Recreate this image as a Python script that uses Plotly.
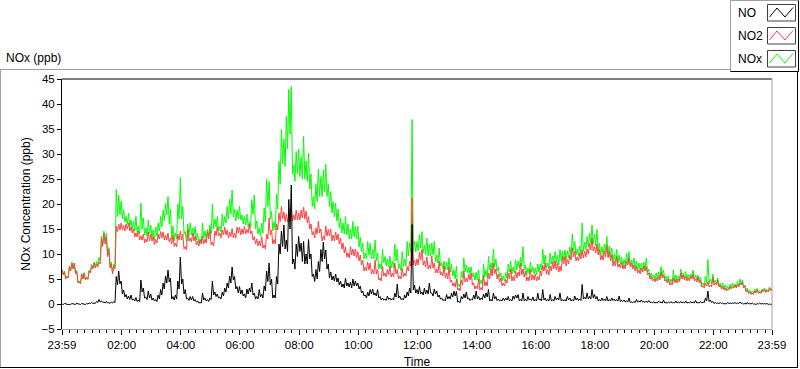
import pandas as pd
import plotly.graph_objects as go

# ---- data: readings every 5 minutes starting 23:59 (ppb); *_LOW = dip between consecutive readings ----
NO = [
 0.0, 0.1, 0.0, -0.1, 0.1, 0.0, 0.2, 0.0, 0.1, 0.0, 0.1, 0.2,
 0.3, 0.2, 0.5, 0.9, 0.6, 0.4, 0.5, 0.3, 0.4, 0.5, 5.5, 6.6,
 4.6, 2.8, 1.9, 1.6, 1.8, 1.0, 1.3, 0.8, 4.8, 3.2, 1.4, 2.6,
 2.0, 1.2, 0.9, 1.8, 2.9, 4.2, 5.6, 6.8, 5.2, 1.5, 1.8, 4.6,
 9.4, 5.0, 2.9, 1.2, 1.5, 1.5, 0.9, 0.6, 0.3, 2.2, 1.2, 0.9,
 1.2, 4.6, 2.4, 2.0, 1.4, 2.4, 3.2, 4.2, 5.6, 7.4, 5.5, 3.5,
 3.5, 2.8, 2.0, 3.0, 3.2, 4.2, 2.2, 1.5, 2.9, 2.0, 3.6, 6.6,
 8.2, 5.0, 1.8, 5.5, 12.0, 14.6, 15.8, 12.8, 20.9, 23.8, 9.0, 12.0,
 13.5, 12.2, 12.5, 10.0, 12.9, 10.0, 6.0, 6.9, 8.5, 10.9, 12.4, 10.8,
 8.0, 6.4, 5.6, 6.0, 5.2, 4.6, 4.0, 5.2, 4.2, 4.4, 5.0, 4.6,
 4.2, 3.6, 2.6, 1.8, 2.4, 2.9, 3.0, 2.2, 2.9, 1.5, 1.2, 1.0,
 1.6, 1.2, 1.1, 2.2, 4.0, 1.6, 1.1, 1.8, 2.4, 3.2, 15.9, 3.8,
 2.9, 3.5, 2.4, 3.2, 2.8, 4.2, 2.2, 3.0, 2.6, 1.8, 1.2, 0.9,
 1.9, 1.5, 2.2, 2.6, 2.5, 0.5, 1.5, 2.0, 2.4, 1.2, 1.0, 1.8,
 2.6, 1.5, 1.2, 2.0, 2.2, 2.9, 0.9, 2.2, 1.5, 1.0, 0.8, 1.2,
 1.2, 1.5, 0.9, 1.6, 1.8, 1.9, 0.9, 2.2, 0.9, 1.5, 1.0, 1.4,
 0.9, 2.2, 1.0, 2.9, 1.2, 0.9, 1.9, 0.9, 1.5, 1.2, 2.2, 0.9,
 0.9, 1.5, 1.2, 0.9, 1.6, 1.2, 1.0, 3.9, 1.4, 2.2, 1.5, 2.9,
 1.9, 1.5, 0.9, 1.2, 1.0, 1.5, 0.9, 1.2, 1.0, 0.9, 1.6, 0.7,
 0.8, 0.6, 1.2, 0.4, 0.5, 0.9, 0.6, 0.8, 0.5, 0.6, 0.7, 0.4,
 0.5, 0.3, 0.6, 0.4, 0.8, 0.3, 0.4, 0.5, 0.3, 0.6, 0.4, 0.5,
 0.4, 0.6, 0.3, 0.5, 0.4, 0.7, 0.3, 0.5, 0.4, 1.2, 2.6, 0.8,
 0.5, 0.3, 0.2, 0.3, 0.2, 0.1, 0.3, 0.2, 0.2, 0.3, 0.2, 0.4,
 0.2, 0.1, 0.3, 0.1, 0.2, 0.0, 0.1, 0.2, 0.1, 0.1, 0.1, 0.0,
 0.0]

NO_LOW = [
 -0.1, 0.0, -0.1, -0.1, 0.0, -0.1, 0.0, -0.1, 0.0, -0.1, 0.0, 0.1,
 0.1, 0.1, 0.3, 0.4, 0.3, 0.2, 0.2, 0.1, 0.2, 0.3, 3.8, 4.0,
 2.0, 1.4, 1.0, 0.9, 0.8, 0.6, 0.5, 0.5, 2.4, 1.2, 0.9, 1.2,
 0.8, 0.6, 0.5, 1.0, 1.8, 3.0, 4.2, 4.4, 1.0, 0.8, 1.0, 3.0,
 4.0, 2.0, 1.0, 0.7, 0.8, 0.6, 0.4, 0.2, 0.2, 0.8, 0.6, 0.5,
 0.9, 1.8, 1.5, 1.2, 1.0, 1.6, 2.4, 3.2, 4.2, 4.8, 3.0, 2.2,
 2.0, 1.6, 1.2, 2.0, 2.4, 1.8, 1.0, 1.0, 1.4, 1.2, 2.6, 4.5,
 3.8, 1.2, 1.2, 4.0, 10.0, 11.5, 11.0, 10.5, 15.0, 8.0, 7.0, 9.5,
 10.5, 8.5, 8.0, 8.0, 9.0, 5.5, 4.5, 5.0, 6.5, 8.5, 9.0, 7.0,
 5.2, 4.8, 4.6, 4.4, 3.8, 3.4, 3.2, 3.6, 3.4, 3.2, 3.6, 3.6,
 3.0, 2.2, 1.6, 1.2, 1.6, 2.0, 1.8, 1.6, 1.2, 0.8, 0.8, 0.7,
 0.9, 0.8, 0.8, 1.4, 1.2, 0.9, 0.8, 1.2, 1.6, 2.2, 2.8, 2.2,
 2.0, 2.0, 1.8, 2.0, 2.0, 2.2, 1.6, 2.0, 1.4, 1.0, 0.7, 0.6,
 1.0, 1.0, 1.4, 1.6, 0.4, 0.3, 1.0, 1.2, 1.0, 0.7, 0.8, 1.0,
 1.0, 0.8, 0.9, 1.2, 1.4, 0.6, 0.6, 1.0, 0.7, 0.6, 0.6, 0.7,
 0.8, 0.6, 0.6, 1.0, 1.2, 0.6, 0.6, 0.6, 0.6, 0.8, 0.7, 0.6,
 0.6, 0.8, 0.6, 0.8, 0.6, 0.6, 0.6, 0.6, 0.8, 0.8, 0.6, 0.6,
 0.6, 0.8, 0.6, 0.6, 0.8, 0.7, 0.7, 1.0, 1.0, 1.0, 1.0, 1.2,
 1.0, 0.6, 0.6, 0.7, 0.6, 0.6, 0.6, 0.7, 0.6, 0.6, 0.5, 0.5,
 0.4, 0.4, 0.3, 0.3, 0.3, 0.4, 0.4, 0.4, 0.3, 0.3, 0.3, 0.2,
 0.2, 0.2, 0.3, 0.2, 0.2, 0.2, 0.2, 0.2, 0.2, 0.2, 0.2, 0.2,
 0.2, 0.2, 0.2, 0.2, 0.2, 0.2, 0.2, 0.2, 0.3, 0.6, 0.5, 0.3,
 0.1, 0.1, 0.1, 0.1, 0.0, 0.0, 0.1, 0.1, 0.1, 0.1, 0.1, 0.1,
 0.0, 0.0, 0.0, 0.0, 0.0, -0.1, 0.0, 0.0, 0.0, 0.0, -0.1, -0.1]

NO2 = [
 6.9, 6.5, 5.5, 7.5, 8.2, 8.2, 6.5, 4.5, 6.0, 6.2, 5.3, 6.6,
 7.6, 8.2, 8.0, 8.4, 13.0, 14.2, 13.4, 11.0, 8.0, 7.5, 15.6, 16.0,
 16.2, 15.7, 16.0, 16.2, 15.4, 15.0, 14.2, 14.6, 13.6, 14.0, 13.0, 14.4,
 14.0, 13.5, 12.9, 14.0, 14.5, 14.4, 13.8, 14.2, 13.2, 13.8, 12.2, 14.0,
 14.6, 14.0, 11.5, 14.9, 13.2, 14.2, 13.6, 12.6, 12.8, 13.5, 13.0, 14.4,
 14.9, 12.4, 14.6, 15.5, 14.2, 14.8, 15.4, 14.8, 14.4, 15.1, 14.2, 15.4,
 15.4, 15.0, 15.6, 14.9, 16.0, 14.6, 13.5, 13.0, 12.6, 13.5, 11.8, 14.0,
 17.2, 14.8, 12.9, 16.0, 18.2, 19.5, 18.4, 18.0, 17.8, 19.2, 17.8, 18.8,
 18.2, 18.8, 19.4, 18.6, 17.5, 16.0, 14.5, 15.2, 16.6, 15.0, 13.6, 15.6,
 14.9, 15.0, 13.8, 14.4, 14.0, 13.2, 12.2, 11.4, 10.2, 11.5, 11.0, 11.0,
 10.5, 9.8, 8.8, 7.4, 8.4, 8.2, 6.9, 8.8, 6.9, 5.2, 7.6, 6.2,
 6.9, 7.6, 6.2, 8.2, 6.9, 5.6, 7.2, 6.2, 7.5, 8.5, 21.2, 8.8,
 9.0, 10.4, 10.9, 8.6, 9.4, 7.8, 9.6, 8.2, 7.0, 8.6, 6.4, 7.6,
 6.2, 7.5, 4.8, 4.2, 5.0, 3.2, 4.8, 6.6, 5.2, 6.0, 6.2, 4.2,
 3.6, 5.0, 3.3, 5.8, 4.4, 6.2, 7.0, 8.2, 7.0, 6.0, 5.2, 4.2,
 4.9, 6.2, 7.0, 5.5, 6.6, 6.4, 8.2, 7.0, 6.6, 5.4, 6.9, 5.8,
 6.0, 5.5, 6.6, 7.8, 8.2, 6.9, 7.6, 8.4, 8.6, 8.2, 7.6, 9.5,
 9.5, 8.9, 9.8, 11.2, 10.6, 9.4, 10.2, 10.8, 10.6, 11.0, 12.2, 13.2,
 11.5, 12.0, 10.9, 9.8, 10.6, 11.8, 10.5, 9.8, 8.6, 9.5, 8.0, 8.4,
 7.8, 8.6, 9.2, 8.2, 7.8, 7.5, 6.8, 7.2, 7.6, 7.5, 6.2, 5.5,
 5.0, 5.2, 5.5, 6.4, 5.8, 4.9, 5.0, 4.2, 5.2, 4.9, 5.0, 6.2,
 5.8, 5.5, 5.2, 5.6, 6.0, 5.0, 5.4, 4.8, 3.6, 4.2, 4.4, 3.8,
 5.4, 4.2, 4.8, 3.8, 3.5, 3.2, 3.0, 3.5, 3.5, 3.8, 3.9, 4.2,
 4.4, 3.6, 2.8, 2.4, 2.2, 2.6, 2.9, 2.4, 2.8, 3.0, 2.7, 3.2,
 3.0]

NO2_LOW = [
 5.8, 5.0, 5.2, 6.6, 7.0, 6.0, 4.2, 4.0, 5.0, 4.8, 4.9, 6.2,
 7.0, 7.2, 7.4, 8.0, 11.5, 12.0, 9.5, 7.2, 6.0, 7.0, 14.5, 14.8,
 14.8, 14.6, 15.0, 14.6, 14.2, 13.4, 13.4, 12.8, 12.8, 12.2, 12.4, 12.6,
 12.6, 11.8, 12.2, 13.0, 13.2, 12.8, 12.8, 12.4, 12.0, 11.5, 11.4, 12.8,
 12.8, 11.0, 10.8, 12.6, 12.4, 12.6, 11.8, 11.6, 12.0, 12.0, 12.2, 13.0,
 11.8, 11.6, 13.6, 13.6, 13.2, 13.8, 13.8, 13.2, 13.5, 13.2, 13.2, 14.2,
 13.8, 14.0, 14.0, 14.2, 14.0, 12.8, 12.0, 11.6, 11.6, 11.2, 11.0, 13.0,
 13.8, 12.0, 12.0, 14.8, 16.5, 17.0, 16.5, 16.4, 16.5, 16.6, 16.8, 16.8,
 16.8, 17.2, 17.0, 16.2, 15.0, 13.8, 13.2, 14.0, 14.2, 12.6, 12.8, 13.6,
 13.6, 12.6, 12.6, 12.8, 12.0, 11.0, 10.2, 9.4, 9.2, 9.8, 9.6, 9.2,
 8.6, 7.8, 6.6, 6.6, 6.8, 6.0, 6.0, 6.0, 4.8, 4.6, 5.6, 5.4,
 5.8, 5.4, 5.4, 6.0, 5.0, 5.0, 5.4, 5.6, 6.6, 7.6, 7.8, 7.6,
 7.8, 8.8, 7.8, 7.4, 7.0, 7.0, 7.2, 6.2, 6.2, 5.8, 5.6, 5.2,
 5.0, 4.4, 3.6, 3.4, 2.8, 2.6, 3.8, 4.4, 4.4, 4.8, 3.8, 3.0,
 3.0, 2.8, 2.8, 3.6, 3.6, 5.0, 5.6, 6.0, 5.0, 4.4, 3.6, 3.6,
 4.2, 5.0, 4.6, 4.6, 5.2, 5.6, 5.8, 5.4, 4.6, 4.6, 4.8, 4.8,
 4.6, 4.8, 5.6, 6.6, 6.0, 5.8, 6.6, 7.0, 6.8, 6.4, 6.6, 8.0,
 7.6, 8.0, 8.8, 9.4, 8.6, 8.6, 9.0, 9.2, 9.4, 10.0, 10.8, 10.6,
 10.2, 9.8, 8.8, 8.8, 9.4, 9.2, 8.6, 7.6, 7.6, 7.4, 7.2, 7.0,
 7.0, 7.8, 7.4, 7.0, 6.6, 6.2, 6.0, 6.4, 6.6, 5.8, 5.0, 4.6,
 4.4, 4.6, 4.8, 5.2, 4.6, 4.2, 3.8, 3.8, 4.2, 4.2, 4.4, 5.0,
 4.8, 4.6, 4.6, 5.0, 4.6, 4.4, 4.2, 3.4, 3.2, 3.6, 3.4, 3.4,
 3.8, 3.8, 3.4, 3.0, 2.8, 2.6, 2.8, 3.0, 3.2, 3.2, 3.4, 3.8,
 3.2, 2.4, 2.1, 1.9, 1.9, 2.2, 2.1, 2.1, 2.4, 2.3, 2.4, 2.6]

NOX = [
 7.0, 6.6, 5.6, 7.6, 8.4, 8.2, 6.7, 4.6, 6.1, 6.3, 5.4, 6.8,
 7.9, 8.4, 8.5, 9.3, 13.6, 14.6, 14.1, 11.3, 8.4, 8.0, 22.9, 21.8,
 20.6, 18.9, 17.5, 18.2, 16.8, 16.5, 17.5, 15.6, 20.2, 17.2, 15.2, 16.8,
 15.8, 14.8, 15.4, 16.2, 17.5, 18.8, 20.1, 21.5, 19.0, 15.6, 14.2, 20.0,
 25.2, 19.5, 14.5, 16.0, 16.2, 15.2, 15.5, 14.2, 13.0, 16.2, 14.6, 14.9,
 15.8, 20.0, 17.0, 17.5, 15.5, 18.0, 17.5, 19.5, 21.0, 22.8, 19.0, 18.8,
 19.5, 17.8, 17.5, 18.0, 16.5, 20.9, 21.8, 16.6, 15.2, 16.2, 19.2, 24.9,
 24.5, 18.5, 16.4, 22.0, 28.5, 34.9, 33.0, 37.5, 42.9, 43.5, 27.8, 30.5,
 31.0, 29.5, 33.5, 28.6, 30.2, 26.0, 21.5, 24.0, 27.0, 25.5, 26.8, 28.0,
 24.0, 22.5, 20.5, 20.2, 19.0, 17.2, 16.2, 17.5, 16.0, 15.0, 16.5, 15.5,
 15.6, 13.4, 12.2, 10.2, 12.5, 12.2, 10.9, 12.8, 10.2, 8.0, 10.9, 9.5,
 9.0, 9.6, 8.5, 12.0, 11.0, 8.0, 10.5, 9.0, 12.5, 12.2, 36.9, 12.6,
 12.5, 13.9, 14.5, 11.8, 13.2, 12.0, 12.2, 12.5, 9.8, 11.2, 8.2, 8.6,
 8.4, 9.2, 8.0, 6.8, 7.6, 4.0, 6.5, 9.2, 7.8, 7.4, 7.4, 6.2,
 6.4, 6.8, 4.8, 8.0, 6.8, 9.5, 8.2, 11.0, 9.0, 7.4, 6.2, 5.6,
 6.3, 8.0, 8.6, 7.4, 8.8, 8.6, 9.4, 11.5, 7.8, 7.2, 8.4, 7.5,
 7.2, 8.0, 8.0, 11.0, 9.8, 8.2, 10.2, 9.6, 10.5, 9.8, 10.9, 10.6,
 10.8, 10.6, 11.4, 14.0, 12.5, 11.0, 11.6, 16.2, 12.4, 13.5, 14.2, 15.8,
 14.0, 14.9, 12.2, 11.4, 12.0, 13.5, 11.6, 11.2, 10.0, 10.9, 9.8, 9.4,
 8.9, 10.2, 10.5, 8.8, 9.2, 8.6, 8.2, 8.2, 8.4, 9.2, 7.0, 6.2,
 5.8, 6.2, 6.4, 7.5, 6.8, 5.6, 5.6, 5.0, 6.8, 5.8, 5.6, 7.0,
 6.2, 6.5, 5.9, 6.0, 6.8, 5.8, 5.8, 5.4, 4.2, 5.5, 8.9, 5.0,
 6.0, 4.8, 5.2, 4.2, 4.2, 3.8, 3.6, 4.0, 4.2, 4.0, 4.5, 5.0,
 4.8, 3.8, 3.2, 2.8, 2.6, 3.0, 3.1, 2.7, 3.0, 3.2, 2.9, 3.4,
 3.2]

NOX_LOW = [
 5.9, 5.1, 5.3, 6.7, 7.1, 6.1, 4.3, 4.1, 5.1, 4.9, 5.0, 6.4,
 7.3, 7.4, 7.8, 8.6, 12.0, 12.4, 9.8, 7.5, 6.4, 7.4, 17.5, 17.8,
 17.0, 16.4, 16.0, 15.4, 15.0, 14.6, 14.2, 14.0, 15.0, 13.8, 13.6, 14.0,
 13.4, 12.8, 13.6, 14.6, 15.4, 16.6, 17.8, 16.0, 13.0, 12.6, 13.0, 17.0,
 17.0, 14.0, 12.4, 13.6, 13.8, 13.6, 12.8, 12.2, 12.4, 13.2, 13.0, 13.6,
 14.0, 15.0, 15.4, 14.6, 14.4, 15.6, 16.2, 17.0, 18.0, 17.4, 16.6, 17.0,
 16.8, 16.0, 15.8, 15.4, 15.2, 18.0, 15.0, 14.0, 13.6, 14.2, 16.4, 19.5,
 17.0, 14.6, 14.8, 19.0, 24.0, 28.0, 27.5, 31.0, 34.0, 26.0, 24.5, 26.0,
 25.5, 25.0, 25.0, 24.5, 23.0, 19.5, 19.0, 20.5, 21.5, 21.5, 22.5, 21.5,
 19.5, 18.2, 17.4, 16.6, 15.2, 14.2, 14.0, 13.8, 13.0, 13.0, 13.4, 13.0,
 11.4, 10.4, 9.0, 9.0, 9.8, 9.0, 9.0, 8.6, 7.0, 7.0, 8.2, 7.6,
 7.4, 7.2, 7.2, 8.6, 7.0, 6.6, 7.4, 7.6, 9.6, 10.4, 10.6, 10.4,
 10.6, 11.2, 10.2, 9.8, 9.6, 9.6, 9.8, 8.4, 8.2, 7.6, 7.0, 6.8,
 6.8, 6.4, 5.6, 5.0, 3.6, 3.4, 5.2, 6.4, 6.2, 6.0, 5.4, 4.8,
 4.8, 4.0, 3.8, 5.4, 5.2, 6.8, 6.6, 7.4, 6.6, 5.4, 4.6, 4.6,
 5.2, 6.4, 6.0, 6.2, 6.8, 7.2, 7.6, 6.8, 5.8, 6.0, 6.4, 6.0,
 5.8, 6.4, 6.8, 8.0, 7.2, 7.0, 8.0, 8.2, 8.2, 7.8, 8.6, 8.8,
 8.8, 9.2, 9.8, 10.6, 9.8, 9.6, 10.0, 10.6, 10.8, 11.4, 12.2, 12.0,
 11.6, 10.6, 9.8, 9.8, 10.4, 10.0, 9.4, 8.4, 8.4, 8.2, 8.0, 7.6,
 7.6, 8.4, 7.8, 7.6, 7.2, 6.8, 6.6, 6.8, 7.0, 6.4, 5.4, 5.0,
 4.8, 5.0, 5.2, 5.6, 5.0, 4.6, 4.2, 4.2, 4.6, 4.6, 4.8, 5.4,
 5.2, 5.0, 5.0, 5.4, 5.0, 4.8, 4.6, 3.8, 3.6, 4.2, 4.0, 4.0,
 4.2, 4.0, 3.6, 3.2, 3.0, 2.8, 3.0, 3.2, 3.4, 3.4, 3.6, 4.0,
 3.4, 2.6, 2.3, 2.1, 2.1, 2.4, 2.3, 2.3, 2.6, 2.5, 2.6, 2.8]

START = "2020-01-01 23:59"
END = "2020-01-02 23:59"
TICK_TIMES = ["2020-01-01 23:59", "2020-01-02 02:00", "2020-01-02 04:00", "2020-01-02 06:00",
              "2020-01-02 08:00", "2020-01-02 10:00", "2020-01-02 12:00", "2020-01-02 14:00",
              "2020-01-02 16:00", "2020-01-02 18:00", "2020-01-02 20:00", "2020-01-02 22:00",
              "2020-01-02 23:59"]
TICK_LABELS = ["23:59", "02:00", "04:00", "06:00", "08:00", "10:00", "12:00", "14:00",
               "16:00", "18:00", "20:00", "22:00", "23:59"]
Y_TICKS = [-5, 0, 5, 10, 15, 20, 25, 30, 35, 40, 45]


def interleave(peaks, lows):
    out = []
    for i, v in enumerate(peaks):
        out.append(v)
        if i < len(lows):
            out.append(lows[i])
    return out


no_y = interleave(NO, NO_LOW)
no2_y = interleave(NO2, NO2_LOW)
nox_y = interleave(NOX, NOX_LOW)
times = pd.date_range(START, periods=len(no_y), freq="150s")

FONT = "Liberation Sans"
W, H = 800, 369
L, R, T, B = 62, 28, 79, 40
PW, PH = W - L - R, H - T - B


def px(x):
    return (x - L) / PW


def py(y):
    return (H - B - y) / PH


fig = go.Figure()
fig.add_trace(go.Scatter(x=times, y=nox_y, mode="lines", line=dict(color="#00FF00", width=1), name="NOx"))
fig.add_trace(go.Scatter(x=times, y=no2_y, mode="lines", line=dict(color="#FF4040", width=1), name="NO2"))
fig.add_trace(go.Scatter(x=times, y=no_y, mode="lines", line=dict(color="#000000", width=1), name="NO"))

shapes = []
GREY = "#A0A0A0"
# outer panel frame
shapes.append(dict(type="line", xref="paper", yref="paper", x0=px(0.5), x1=px(0.5), y0=py(69.5), y1=py(368), line=dict(color=GREY, width=1)))
shapes.append(dict(type="line", xref="paper", yref="paper", x0=px(0), x1=px(730), y0=py(69.5), y1=py(69.5), line=dict(color=GREY, width=1)))
shapes.append(dict(type="line", xref="paper", yref="paper", x0=px(797.5), x1=px(797.5), y0=py(72), y1=py(368), line=dict(color="#000000", width=1)))
shapes.append(dict(type="line", xref="paper", yref="paper", x0=px(0), x1=px(798), y0=py(367.5), y1=py(367.5), line=dict(color="#000000", width=1)))
# plot border: top black, right grey
shapes.append(dict(type="line", xref="paper", yref="paper", x0=0, x1=1, y0=1, y1=1, line=dict(color="#000000", width=1)))
shapes.append(dict(type="line", xref="paper", yref="paper", x0=1, x1=1, y0=0, y1=1, line=dict(color=GREY, width=1)))
# legend box
shapes.append(dict(type="line", xref="paper", yref="paper", x0=px(730.5), x1=px(730.5), y0=py(0.5), y1=py(72), line=dict(color=GREY, width=1)))
shapes.append(dict(type="line", xref="paper", yref="paper", x0=px(730.5), x1=px(798.5), y0=py(0.5), y1=py(0.5), line=dict(color=GREY, width=1)))
shapes.append(dict(type="line", xref="paper", yref="paper", x0=px(798.5), x1=px(798.5), y0=py(0.5), y1=py(72), line=dict(color="#000000", width=1)))
shapes.append(dict(type="line", xref="paper", yref="paper", x0=px(730.5), x1=px(798.5), y0=py(71.5), y1=py(71.5), line=dict(color="#000000", width=1)))

annotations = []
LEGEND = [("NO", "#000000"), ("NO2", "#FF4040"), ("NOx", "#00FF00")]
for k, (label, color) in enumerate(LEGEND):
    top = 4 + 23 * k
    shapes.append(dict(type="rect", xref="paper", yref="paper", x0=px(767.5), x1=px(795.5), y0=py(top + 0.5), y1=py(top + 17),
                       line=dict(color="#404040", width=1), fillcolor="white"))
    pts = [(769.5, top + 13), (777, top + 4), (785, top + 13), (793, top + 3.5)]
    path = "M " + " L ".join(f"{px(a):.5f},{py(b):.5f}" for a, b in pts)
    shapes.append(dict(type="path", xref="paper", yref="paper", path=path, line=dict(color=color, width=1)))
    annotations.append(dict(text=label, xref="paper", yref="paper", x=px(736), y=py(top + 9), xanchor="left", yanchor="middle",
                            showarrow=False, font=dict(family=FONT, size=12, color="#000000")))

annotations.append(dict(text="NOx (ppb)", xref="paper", yref="paper", x=px(4), y=py(58), xanchor="left", yanchor="middle",
                        showarrow=False, font=dict(family=FONT, size=12, color="#000000")))

fig.update_layout(
    width=W, height=H, margin=dict(l=L, r=R, t=T, b=B, pad=0, autoexpand=False),
    paper_bgcolor="white", plot_bgcolor="white", showlegend=False,
    font=dict(family=FONT, size=12, color="#000000"),
    shapes=shapes, annotations=annotations,
    xaxis=dict(type="date", range=[START, END], tickmode="array", tickvals=TICK_TIMES, ticktext=TICK_LABELS,
               automargin=False, showgrid=False, zeroline=False, showline=True, linecolor=GREY, linewidth=1,
               ticks="outside", ticklen=5, tickcolor="#000000", tickfont=dict(family=FONT, size=11.5),
               minor=dict(ticks="outside", ticklen=3, tickcolor="#000000", dtick=15 * 60 * 1000, tick0="2020-01-02 00:00", showgrid=False),
               title=dict(text="Time", font=dict(family=FONT, size=12), standoff=7)),
    yaxis=dict(range=[-5, 45], tickmode="array", tickvals=Y_TICKS, showgrid=False, zeroline=False, automargin=False,
               showline=True, linecolor="#000000", linewidth=1, ticks="outside", ticklen=4, tickcolor="#000000",
               tickfont=dict(family=FONT, size=11.5),
               title=dict(text="NOx Concentration (ppb)", font=dict(family=FONT, size=12), standoff=8)),
)

fig.write_html("out.html", config={"displayModeBar": False},
               post_script="document.body.style.margin='0';")
